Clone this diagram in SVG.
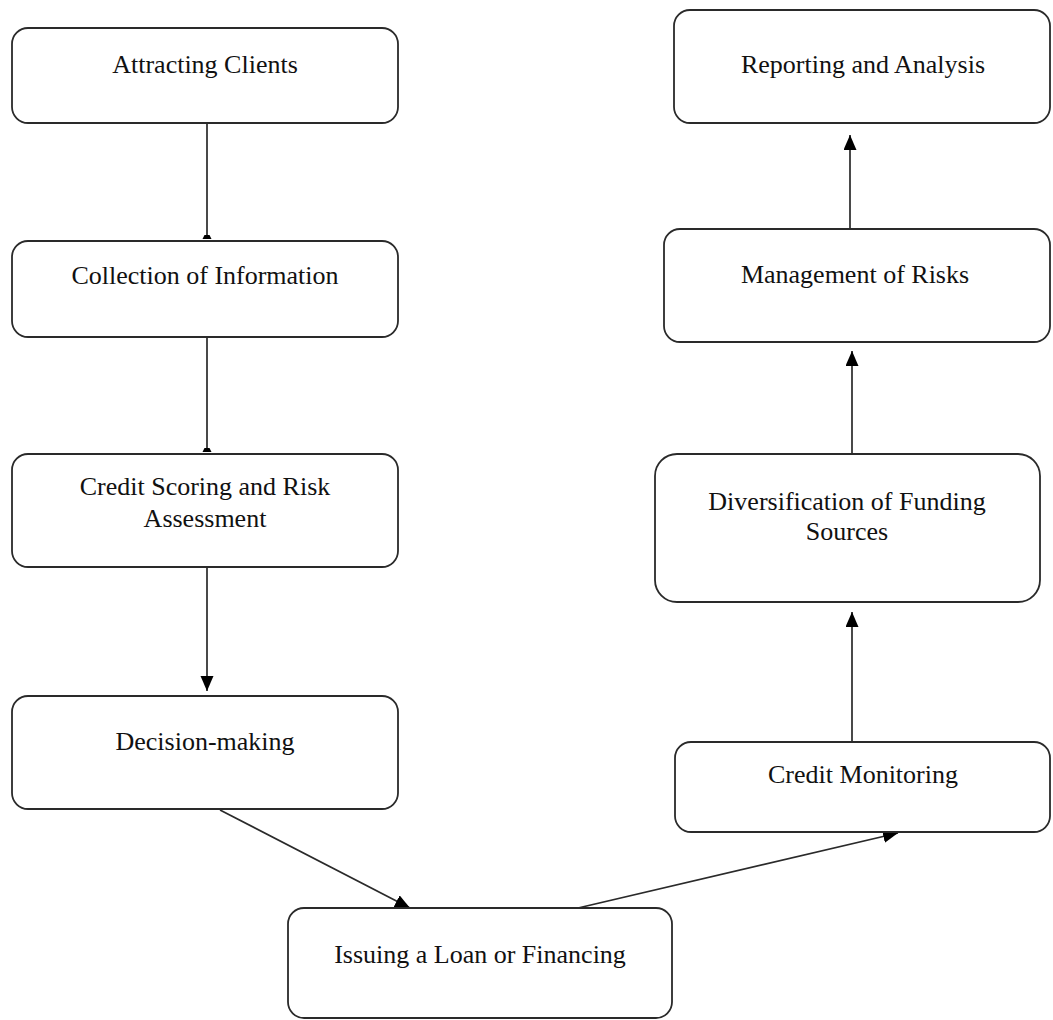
<svg xmlns="http://www.w3.org/2000/svg" width="1053" height="1020" viewBox="0 0 1053 1020">
  <style>
    .box { fill: #ffffff; stroke: #2a2a2a; stroke-width: 1.8; }
    .lbl { font-family: "Liberation Serif", "Times New Roman", serif; font-size: 26px; fill: #111111; text-anchor: middle; }
    .conn { fill: none; stroke: #2a2a2a; stroke-width: 1.7; }
  </style>
  <defs>
    <marker id="arrow" markerUnits="userSpaceOnUse" markerWidth="16" markerHeight="14" refX="15" refY="6.5" orient="auto">
      <path d="M0,0 L15,6.5 L0,13 z" fill="#000000"/>
    </marker>
    <marker id="arrowSmall" markerUnits="userSpaceOnUse" markerWidth="6" markerHeight="10" refX="4" refY="4.5" orient="auto">
      <path d="M0,2 L4,0 L4,9 L0,7 z" fill="#000000"/>
    </marker>
  </defs>
  <rect width="1053" height="1020" fill="#ffffff"/>

  <g id="connectors">
    <path class="conn" d="M207,123 L207,239" marker-end="url(#arrowSmall)"/>
    <path class="conn" d="M207,337 L207,452" marker-end="url(#arrowSmall)"/>
    <path class="conn" d="M207,567 L207,691" marker-end="url(#arrow)"/>
    <path class="conn" d="M220,810 L410,908" marker-end="url(#arrow)"/>
    <path class="conn" d="M578,908 L898,833" marker-end="url(#arrow)"/>
    <path class="conn" d="M852,742 L852,612" marker-end="url(#arrow)"/>
    <path class="conn" d="M852,454 L852,351" marker-end="url(#arrow)"/>
    <path class="conn" d="M850,229 L850,135" marker-end="url(#arrow)"/>
  </g>

  <g id="attracting-clients">
    <rect class="box" x="12" y="28" width="386" height="95" rx="16"/>
    <text class="lbl" x="205" y="73">Attracting Clients</text>
  </g>
  <g id="collection-of-information">
    <rect class="box" x="12" y="241" width="386" height="96" rx="16"/>
    <text class="lbl" x="205" y="284">Collection of Information</text>
  </g>
  <g id="credit-scoring">
    <rect class="box" x="12" y="454" width="386" height="113" rx="16"/>
    <text class="lbl" x="205" y="495">Credit Scoring and Risk</text>
    <text class="lbl" x="205" y="527">Assessment</text>
  </g>
  <g id="decision-making">
    <rect class="box" x="12" y="696" width="386" height="113" rx="16"/>
    <text class="lbl" x="205" y="750">Decision-making</text>
  </g>
  <g id="issuing-loan">
    <rect class="box" x="288" y="908" width="384" height="110" rx="16"/>
    <text class="lbl" x="480" y="963">Issuing a Loan or Financing</text>
  </g>
  <g id="credit-monitoring">
    <rect class="box" x="675" y="742" width="375" height="90" rx="16"/>
    <text class="lbl" x="863" y="783">Credit Monitoring</text>
  </g>
  <g id="diversification">
    <rect class="box" x="655" y="454" width="385" height="148" rx="22"/>
    <text class="lbl" x="847" y="510">Diversification of Funding</text>
    <text class="lbl" x="847" y="540">Sources</text>
  </g>
  <g id="management-of-risks">
    <rect class="box" x="664" y="229" width="386" height="113" rx="16"/>
    <text class="lbl" x="855" y="283">Management of Risks</text>
  </g>
  <g id="reporting-and-analysis">
    <rect class="box" x="674" y="10" width="376" height="113" rx="16"/>
    <text class="lbl" x="863" y="73">Reporting and Analysis</text>
  </g>
</svg>
